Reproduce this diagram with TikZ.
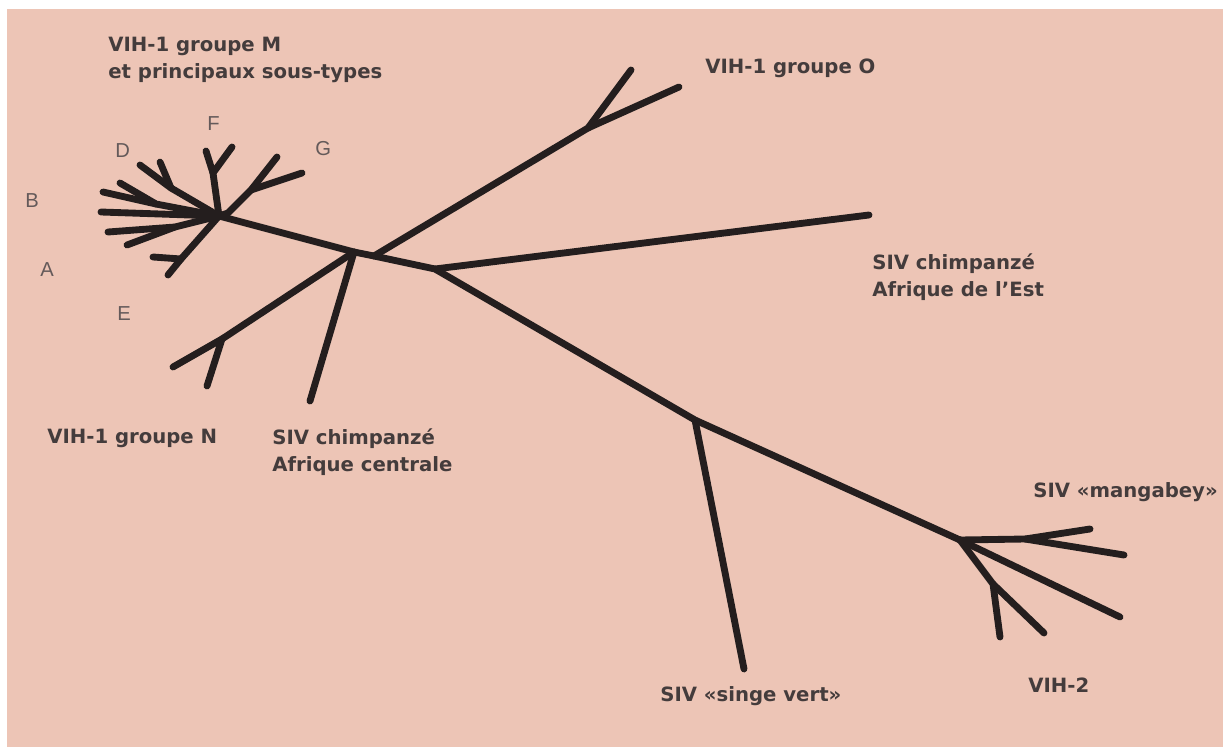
\documentclass[tikz,border=0pt]{standalone}
\usepackage{fontspec}
\setmainfont{DejaVu Sans}
\newfontfamily\lettrefont{Liberation Sans}
\usepackage{tikz}

\definecolor{fond}{RGB}{237,197,182}
\definecolor{trait}{RGB}{36,30,30}
\definecolor{texte}{RGB}{68,60,60}
\definecolor{lettre}{RGB}{100,90,90}

\tikzset{
	branche/.style={line width=3.9pt, line cap=round, line join=round, color=trait},
	etiquette/.style={anchor=base west, inner sep=0pt, text=texte, align=left,
		font=\bfseries\fontsize{11.2}{15}\selectfont},
	soustype/.style={anchor=base west, inner sep=0pt, text=lettre,
		font=\lettrefont\fontsize{11.5}{13}\selectfont}
}

\begin{document}
\begin{tikzpicture}[x=0.02cm, y=-0.02cm]
	% 背景:左上留白,其余为粉色
	\useasboundingbox (0,0) rectangle (1223,747);
	\fill[white] (0,0) rectangle (1223,747);
	\fill[fond] (7,9) rectangle (1223,747);
	
	% 主干上的分叉点
	\coordinate (M) at (219,216);
	\coordinate (jN) at (354,252);
	\coordinate (jO) at (374,256);
	\coordinate (jE) at (435,269);
	\coordinate (jV) at (695,420);
	\coordinate (jH) at (960,540);
	
	% 主干
	\draw[branche] (M) -- (jN) -- (jO) -- (jE) -- (jV) -- (jH);
	
	% VIH-1 groupe O
	\coordinate (o1) at (588,128);
	\coordinate (o2) at (631,70);
	\coordinate (o3) at (679,87);
	\draw[branche] (jO) -- (o1) -- (o2);
	\draw[branche] (o1) -- (o3);
	
	% VIH-1 groupe N 和 SIV chimpanzé Afrique centrale
	\coordinate (n1) at (222,339);
	\coordinate (n2) at (173,367);
	\coordinate (n3) at (207,386);
	\coordinate (c1) at (310,401);
	\draw[branche] (jN) -- (n1) -- (n2);
	\draw[branche] (n1) -- (n3);
	\draw[branche] (jN) -- (c1);
	
	% SIV chimpanzé Afrique de l'Est
	\coordinate (e1) at (869,215);
	\draw[branche] (jE) -- (e1);
	
	% SIV singe vert
	\coordinate (v1) at (744,669);
	\draw[branche] (jV) -- (v1);
	
	% SIV mangabey 和 VIH-2
	\coordinate (h1) at (1025,539);
	\coordinate (h2) at (1090,529);
	\coordinate (h3) at (1124,555);
	\coordinate (h4) at (1120,617);
	\coordinate (h5) at (993,584);
	\coordinate (h6) at (1000,637);
	\coordinate (h7) at (1044,633);
	\draw[branche] (jH) -- (h1) -- (h2);
	\draw[branche] (h1) -- (h3);
	\draw[branche] (jH) -- (h4);
	\draw[branche] (jH) -- (h5) -- (h6);
	\draw[branche] (h5) -- (h7);
	
	% groupe M 的各个亚型
	\coordinate (f1) at (213,173);
	\coordinate (f2) at (206,151);
	\coordinate (f3) at (232,147);
	\draw[branche] (M) -- (f1) -- (f2);
	\draw[branche] (f1) -- (f3);
	\coordinate (g0) at (228,213);
	\coordinate (g1) at (251,190);
	\coordinate (g2) at (277,157);
	\coordinate (g3) at (302,173);
	\draw[branche] (M) -- (g0) -- (g1) -- (g2);
	\draw[branche] (g1) -- (g3);
	\coordinate (d1) at (171,188);
	\coordinate (d2) at (140,165);
	\coordinate (d3) at (160,162);
	\draw[branche] (M) -- (d1) -- (d2);
	\draw[branche] (d1) -- (d3);
	\coordinate (b1) at (156,204);
	\coordinate (b2) at (120,183);
	\coordinate (b3) at (103,192);
	\coordinate (b4) at (101,212);
	\draw[branche] (M) -- (b1) -- (b2);
	\draw[branche] (b1) -- (b3);
	\draw[branche] (M) -- (b4);
	\coordinate (a1) at (175,227);
	\coordinate (a2) at (108,232);
	\coordinate (a3) at (127,245);
	\draw[branche] (M) -- (a1) -- (a2);
	\draw[branche] (a1) -- (a3);
	\coordinate (x1) at (181,259);
	\coordinate (x2) at (168,275);
	\coordinate (x3) at (153,257);
	\draw[branche] (M) -- (x1) -- (x2);
	\draw[branche] (x1) -- (x3);
	
	% 文字标注(多行时以最后一行的基线定位)
	\node[etiquette] (lM) at (108,78) {VIH-1 groupe M\\et principaux sous-types};
	\node[etiquette] (lO) at (705,73) {VIH-1 groupe O};
	\node[etiquette] (lE) at (872,296) {SIV chimpanzé\\Afrique de l’Est};
	\node[etiquette] (lN) at (47,443) {VIH-1 groupe N};
	\node[etiquette] (lC) at (272,471) {SIV chimpanzé\\Afrique centrale};
	\node[etiquette] (lG) at (1033,497) {SIV «mangabey»};
	\node[etiquette] (lS) at (660,701) {SIV «singe vert»};
	\node[etiquette] (lH) at (1028,692) {VIH-2};
	
	% 亚型字母
	\node[soustype] (tA) at (40,276) {A};
	\node[soustype] (tB) at (25,207) {B};
	\node[soustype] (tD) at (115,157) {D};
	\node[soustype] (tE) at (117,320) {E};
	\node[soustype] (tF) at (207,130) {F};
	\node[soustype] (tG) at (315,155) {G};
\end{tikzpicture}
\end{document}
